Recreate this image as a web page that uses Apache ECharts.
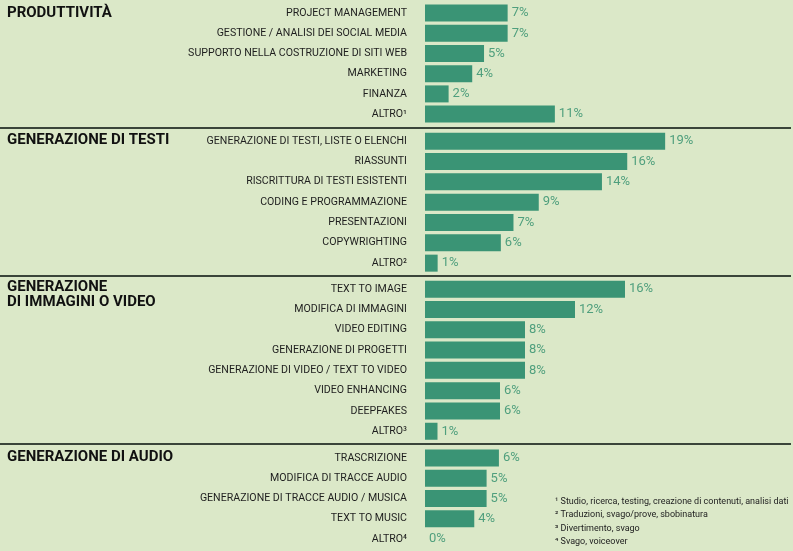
<!DOCTYPE html>
<html>
<head>
<meta charset="utf-8">
<script src="https://cdn.jsdelivr.net/npm/echarts@6/dist/echarts.min.js"></script>
<style>
  html, body { margin: 0; padding: 0; background: #dbe8c8; }
  #chart { width: 793px; height: 551px; }
</style>
</head>
<body>
<div id="chart"></div>
<script>
// categorie e valori (%) per sezione
const prodCats = ['PROJECT MANAGEMENT', 'GESTIONE / ANALISI DEI SOCIAL MEDIA', 'SUPPORTO NELLA COSTRUZIONE DI SITI WEB', 'MARKETING', 'FINANZA', 'ALTRO¹'];
const prodVals = [7, 7, 5, 4, 2, 11];

const testiCats = ['GENERAZIONE DI TESTI, LISTE O ELENCHI', 'RIASSUNTI', 'RISCRITTURA DI TESTI ESISTENTI', 'CODING E PROGRAMMAZIONE', 'PRESENTAZIONI', 'COPYWRIGHTING', 'ALTRO²'];
const testiVals = [19, 16, 14, 9, 7, 6, 1];

const imgCats = ['TEXT TO IMAGE', 'MODIFICA DI IMMAGINI', 'VIDEO EDITING', 'GENERAZIONE DI PROGETTI', 'GENERAZIONE DI VIDEO / TEXT TO VIDEO', 'VIDEO ENHANCING', 'DEEPFAKES', 'ALTRO³'];
const imgVals = [16, 12, 8, 8, 8, 6, 6, 1];

const audioCats = ['TRASCRIZIONE', 'MODIFICA DI TRACCE AUDIO', 'GENERAZIONE DI TRACCE AUDIO / MUSICA', 'TEXT TO MUSIC', 'ALTRO⁴'];
const audioVals = [6, 5, 5, 4, 0];

const sectionTitles = ['PRODUTTIVITÀ', 'GENERAZIONE DI TESTI', 'GENERAZIONE\nDI IMMAGINI O VIDEO', 'GENERAZIONE DI AUDIO'];
const footnotes = [
  '¹ Studio, ricerca, testing, creazione di contenuti, analisi dati',
  '² Traduzioni, svago/prove, sbobinatura',
  '³ Divertimento, svago',
  '⁴ Svago, voiceover'
];

const FONT = "'Liberation Sans Narrow', 'Roboto', sans-serif";
const BAR = '#3a9475';
const VAL = '#4f9f7d';

let myChart = echarts.init(document.getElementById('chart'));

// ogni sezione ha una sua griglia (la scala differisce leggermente)
const sections = [
  { cats: prodCats, vals: prodVals, top: 3, rowH: 20.2, max: 28.8 },
  { cats: testiCats, vals: testiVals, top: 131, rowH: 20.33, max: 26.9 },
  { cats: imgCats, vals: imgVals, top: 279, rowH: 20.3, max: 27.2 },
  { cats: audioCats, vals: audioVals, top: 448, rowH: 20.2, max: 27.6 }
];

let grids = [], xAxes = [], yAxes = [], series = [];
sections.forEach((s, i) => {
  grids.push({ left: 425, width: 340, top: s.top, height: s.rowH * s.cats.length });
  xAxes.push({ type: 'value', gridIndex: i, min: 0, max: s.max, show: false });
  yAxes.push({
    type: 'category', gridIndex: i, data: s.cats, inverse: true,
    axisLine: { show: false }, axisTick: { show: false },
    axisLabel: { margin: 18, color: '#1e1e1e', fontFamily: FONT, fontSize: 10.6 }
  });
  series.push({
    type: 'bar', xAxisIndex: i, yAxisIndex: i, data: s.vals,
    barWidth: 17, itemStyle: { color: BAR }, silent: true,
    label: {
      show: true, position: 'right', distance: 4,
      color: VAL, fontFamily: FONT, fontSize: 13,
      formatter: p => p.value + '%'
    }
  });
});

let graphic = [];
// linee di separazione
[128, 276, 444].forEach(y => {
  graphic.push({ type: 'line', shape: { x1: 0, y1: y, x2: 791, y2: y }, style: { stroke: '#3a453a', lineWidth: 1.8 } });
});
// titoli delle sezioni
[[7, 6], [7, 133], [7, 280], [7, 450]].forEach((p, i) => {
  graphic.push({
    type: 'text', left: p[0], top: p[1],
    style: { text: sectionTitles[i], font: "bold 15px " + FONT, fill: '#111', lineHeight: 15 }
  });
});
// note
footnotes.forEach((t, i) => {
  graphic.push({
    type: 'text', x: 555, y: 502 + i * 13.2,
    style: { text: t, font: "9px " + FONT, fill: '#222', verticalAlign: 'middle' }
  });
});

let option = {
  backgroundColor: '#dbe8c8',
  animation: false,
  grid: grids,
  xAxis: xAxes,
  yAxis: yAxes,
  series: series,
  graphic: graphic
};
myChart.setOption(option);
</script>
</body>
</html>
